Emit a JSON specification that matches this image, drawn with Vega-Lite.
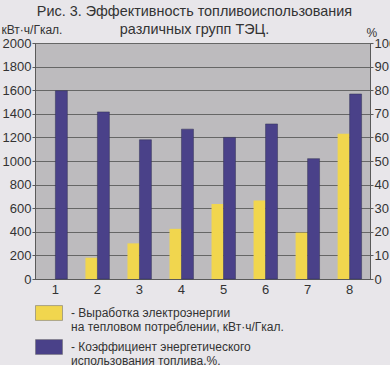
{
  "$schema": "https://vega.github.io/schema/vega-lite/v6.json",
  "width": 335,
  "height": 236,
  "autosize": {"type": "none"},
  "padding": {"left": 35, "top": 43, "right": 20, "bottom": 86},
  "background": "#e8e6ea",
  "title": {
    "text": ["Рис. 3. Эффективность топливоиспользования", "различных групп ТЭЦ."],
    "fontSize": 14.4,
    "font": "Liberation Sans",
    "fontWeight": "normal",
    "color": "#333333",
    "lineHeight": 18,
    "anchor": "middle",
    "dx": -8,
    "offset": -14
  },
  "config": {
    "font": "Liberation Sans",
    "view": {"fill": "#bdbbbe", "stroke": "#5a5a5a"}
  },
  "datasets": {
    "kwh": [
      {"group": "1", "series": "Выработка электроэнергии|на тепловом потреблении, кВт·ч/Гкал.", "value": 0},
      {"group": "2", "series": "Выработка электроэнергии|на тепловом потреблении, кВт·ч/Гкал.", "value": 180},
      {"group": "3", "series": "Выработка электроэнергии|на тепловом потреблении, кВт·ч/Гкал.", "value": 302},
      {"group": "4", "series": "Выработка электроэнергии|на тепловом потреблении, кВт·ч/Гкал.", "value": 425},
      {"group": "5", "series": "Выработка электроэнергии|на тепловом потреблении, кВт·ч/Гкал.", "value": 635},
      {"group": "6", "series": "Выработка электроэнергии|на тепловом потреблении, кВт·ч/Гкал.", "value": 665},
      {"group": "7", "series": "Выработка электроэнергии|на тепловом потреблении, кВт·ч/Гкал.", "value": 393},
      {"group": "8", "series": "Выработка электроэнергии|на тепловом потреблении, кВт·ч/Гкал.", "value": 1230}
    ],
    "pct": [
      {"group": "1", "series": "Коэффициент энергетического|использования топлива,%.", "value": 79.8},
      {"group": "2", "series": "Коэффициент энергетического|использования топлива,%.", "value": 70.8},
      {"group": "3", "series": "Коэффициент энергетического|использования топлива,%.", "value": 59},
      {"group": "4", "series": "Коэффициент энергетического|использования топлива,%.", "value": 63.5},
      {"group": "5", "series": "Коэффициент энергетического|использования топлива,%.", "value": 60},
      {"group": "6", "series": "Коэффициент энергетического|использования топлива,%.", "value": 65.7},
      {"group": "7", "series": "Коэффициент энергетического|использования топлива,%.", "value": 51},
      {"group": "8", "series": "Коэффициент энергетического|использования топлива,%.", "value": 78.4}
    ]
  },
  "encoding": {
    "x": {
      "field": "group",
      "type": "ordinal",
      "scale": {"paddingInner": 0.43, "paddingOuter": 0.2},
      "axis": {
        "title": null,
        "labelAngle": 0,
        "labelFontSize": 13,
        "labelColor": "#333333",
        "ticks": false,
        "labelPadding": 4,
        "domainColor": "#5a5a5a"
      }
    },
    "xOffset": {
      "field": "series",
      "type": "nominal",
      "scale": {"domain": ["Выработка электроэнергии|на тепловом потреблении, кВт·ч/Гкал.", "Коэффициент энергетического|использования топлива,%."]}
    },
    "color": {
      "field": "series",
      "type": "nominal",
      "scale": {
        "domain": ["Выработка электроэнергии|на тепловом потреблении, кВт·ч/Гкал.", "Коэффициент энергетического|использования топлива,%."],
        "range": ["#f1d64e", "#4a4189"]
      },
      "legend": {
        "title": null,
        "orient": "none",
        "legendX": 0,
        "legendY": 256,
        "direction": "vertical",
        "labelExpr": "split('- ' + datum.label, '|')",
        "labelFontSize": 12,
        "labelColor": "#333333",
        "labelLimit": 0,
        "labelOffset": 8,
        "rowPadding": -1,
        "symbolType": "M-1,-0.55L1,-0.55L1,0.55L-1,0.55Z",
        "symbolSize": 729,
        "symbolStrokeColor": "#666666",
        "symbolStrokeWidth": 0.5
      }
    }
  },
  "layer": [
    {
      "data": {"name": "kwh"},
      "mark": {"type": "bar"},
      "encoding": {
        "y": {
          "field": "value",
          "type": "quantitative",
          "scale": {"domain": [0, 2000]},
          "axis": {
            "orient": "left",
            "values": [0, 200, 400, 600, 800, 1000, 1200, 1400, 1600, 1800, 2000],
            "format": "d",
            "grid": true,
            "gridColor": "#666666",
            "gridWidth": 1,
            "domainColor": "#5a5a5a",
            "tickColor": "#5a5a5a",
            "tickSize": 3,
            "labelPadding": 1,
            "labelFontSize": 13,
            "labelColor": "#333333",
            "title": "кВт·ч/Гкал.",
            "titleAngle": 0,
            "titleAlign": "left",
            "titleBaseline": "alphabetic",
            "titleX": -34,
            "titleY": -10,
            "titleFontSize": 12,
            "titleFontWeight": "normal",
            "titleColor": "#333333"
          }
        }
      }
    },
    {
      "data": {"name": "pct"},
      "mark": {"type": "bar", "stroke": "#333355", "strokeWidth": 0.5},
      "encoding": {
        "y": {
          "field": "value",
          "type": "quantitative",
          "scale": {"domain": [0, 100]},
          "axis": {
            "orient": "right",
            "values": [0, 10, 20, 30, 40, 50, 60, 70, 80, 90, 100],
            "format": "d",
            "grid": false,
            "domainColor": "#5a5a5a",
            "tickColor": "#5a5a5a",
            "tickSize": 3,
            "labelPadding": 1,
            "labelFontSize": 13,
            "labelColor": "#333333",
            "title": "%",
            "titleAngle": 0,
            "titleAlign": "left",
            "titleBaseline": "alphabetic",
            "titleX": -4,
            "titleY": -7,
            "titleFontSize": 12,
            "titleFontWeight": "normal",
            "titleColor": "#333333"
          }
        }
      }
    }
  ],
  "resolve": {"scale": {"y": "independent"}}
}
